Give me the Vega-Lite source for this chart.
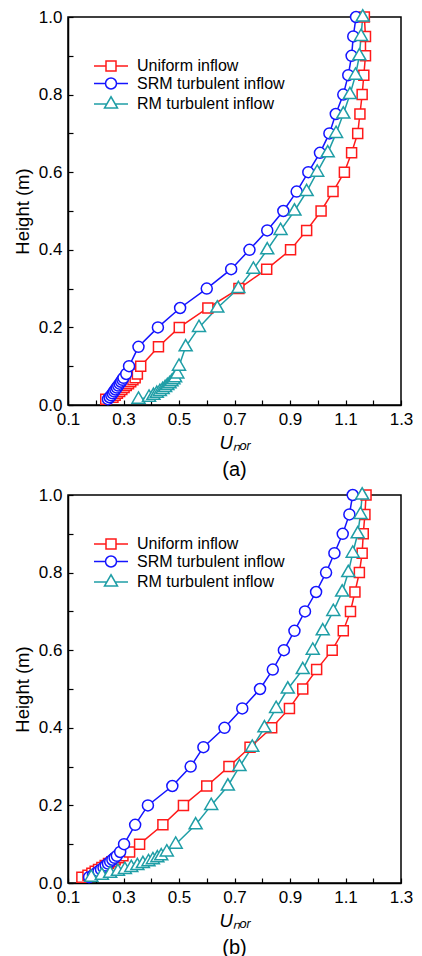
{
  "$schema": "https://vega.github.io/schema/vega-lite/v6.json",
  "background": "white",
  "padding": {"left": 12, "top": 6, "right": 5, "bottom": 5},
  "spacing": 3,
  "datasets": {
    "a": [
      {"h": 0.015, "Uniform inflow": 0.236, "SRM turbulent inflow": 0.244, "RM turbulent inflow": 0.354},
      {"h": 0.02, "Uniform inflow": 0.262, "SRM turbulent inflow": 0.25, "RM turbulent inflow": 0.392},
      {"h": 0.025, "Uniform inflow": 0.27, "SRM turbulent inflow": 0.256, "RM turbulent inflow": 0.408},
      {"h": 0.03, "Uniform inflow": 0.278, "SRM turbulent inflow": 0.261, "RM turbulent inflow": 0.42},
      {"h": 0.035, "Uniform inflow": 0.286, "SRM turbulent inflow": 0.266, "RM turbulent inflow": 0.431},
      {"h": 0.04, "Uniform inflow": 0.294, "SRM turbulent inflow": 0.271, "RM turbulent inflow": 0.441},
      {"h": 0.045, "Uniform inflow": 0.302, "SRM turbulent inflow": 0.276, "RM turbulent inflow": 0.45},
      {"h": 0.05, "Uniform inflow": 0.31, "SRM turbulent inflow": 0.281, "RM turbulent inflow": 0.458},
      {"h": 0.055, "Uniform inflow": 0.318, "SRM turbulent inflow": 0.286, "RM turbulent inflow": 0.466},
      {"h": 0.06, "Uniform inflow": 0.326, "SRM turbulent inflow": 0.291, "RM turbulent inflow": 0.473},
      {"h": 0.065, "Uniform inflow": 0.334, "SRM turbulent inflow": 0.296, "RM turbulent inflow": 0.48},
      {"h": 0.07, "Uniform inflow": 0.342, "SRM turbulent inflow": 0.3, "RM turbulent inflow": 0.486},
      {"h": 0.08, "Uniform inflow": 0.35, "SRM turbulent inflow": 0.31, "RM turbulent inflow": 0.494},
      {"h": 0.1, "Uniform inflow": 0.362, "SRM turbulent inflow": 0.32, "RM turbulent inflow": 0.5},
      {"h": 0.15, "Uniform inflow": 0.426, "SRM turbulent inflow": 0.354, "RM turbulent inflow": 0.524},
      {"h": 0.2, "Uniform inflow": 0.501, "SRM turbulent inflow": 0.424, "RM turbulent inflow": 0.572},
      {"h": 0.25, "Uniform inflow": 0.604, "SRM turbulent inflow": 0.504, "RM turbulent inflow": 0.638},
      {"h": 0.3, "Uniform inflow": 0.716, "SRM turbulent inflow": 0.6, "RM turbulent inflow": 0.714},
      {"h": 0.35, "Uniform inflow": 0.816, "SRM turbulent inflow": 0.688, "RM turbulent inflow": 0.768},
      {"h": 0.4, "Uniform inflow": 0.902, "SRM turbulent inflow": 0.754, "RM turbulent inflow": 0.818},
      {"h": 0.45, "Uniform inflow": 0.96, "SRM turbulent inflow": 0.818, "RM turbulent inflow": 0.866},
      {"h": 0.5, "Uniform inflow": 1.012, "SRM turbulent inflow": 0.876, "RM turbulent inflow": 0.916},
      {"h": 0.55, "Uniform inflow": 1.055, "SRM turbulent inflow": 0.924, "RM turbulent inflow": 0.96},
      {"h": 0.6, "Uniform inflow": 1.096, "SRM turbulent inflow": 0.966, "RM turbulent inflow": 0.998},
      {"h": 0.65, "Uniform inflow": 1.122, "SRM turbulent inflow": 1.008, "RM turbulent inflow": 1.036},
      {"h": 0.7, "Uniform inflow": 1.144, "SRM turbulent inflow": 1.042, "RM turbulent inflow": 1.066},
      {"h": 0.75, "Uniform inflow": 1.152, "SRM turbulent inflow": 1.065, "RM turbulent inflow": 1.092},
      {"h": 0.8, "Uniform inflow": 1.16, "SRM turbulent inflow": 1.092, "RM turbulent inflow": 1.116},
      {"h": 0.85, "Uniform inflow": 1.166, "SRM turbulent inflow": 1.11, "RM turbulent inflow": 1.136},
      {"h": 0.9, "Uniform inflow": 1.172, "SRM turbulent inflow": 1.122, "RM turbulent inflow": 1.15},
      {"h": 0.95, "Uniform inflow": 1.172, "SRM turbulent inflow": 1.128, "RM turbulent inflow": 1.156},
      {"h": 1.0, "Uniform inflow": 1.168, "SRM turbulent inflow": 1.138, "RM turbulent inflow": 1.162}
    ],
    "b": [
      {"h": 0.015, "Uniform inflow": 0.15, "SRM turbulent inflow": 0.176, "RM turbulent inflow": 0.184},
      {"h": 0.02, "Uniform inflow": 0.172, "SRM turbulent inflow": 0.19, "RM turbulent inflow": 0.222},
      {"h": 0.025, "Uniform inflow": 0.186, "SRM turbulent inflow": 0.2, "RM turbulent inflow": 0.252},
      {"h": 0.03, "Uniform inflow": 0.198, "SRM turbulent inflow": 0.21, "RM turbulent inflow": 0.28},
      {"h": 0.035, "Uniform inflow": 0.21, "SRM turbulent inflow": 0.219, "RM turbulent inflow": 0.305},
      {"h": 0.04, "Uniform inflow": 0.222, "SRM turbulent inflow": 0.228, "RM turbulent inflow": 0.328},
      {"h": 0.045, "Uniform inflow": 0.234, "SRM turbulent inflow": 0.236, "RM turbulent inflow": 0.35},
      {"h": 0.05, "Uniform inflow": 0.246, "SRM turbulent inflow": 0.244, "RM turbulent inflow": 0.37},
      {"h": 0.055, "Uniform inflow": 0.258, "SRM turbulent inflow": 0.252, "RM turbulent inflow": 0.39},
      {"h": 0.06, "Uniform inflow": 0.27, "SRM turbulent inflow": 0.26, "RM turbulent inflow": 0.406},
      {"h": 0.065, "Uniform inflow": 0.284, "SRM turbulent inflow": 0.268, "RM turbulent inflow": 0.422},
      {"h": 0.07, "Uniform inflow": 0.298, "SRM turbulent inflow": 0.276, "RM turbulent inflow": 0.436},
      {"h": 0.08, "Uniform inflow": 0.322, "SRM turbulent inflow": 0.288, "RM turbulent inflow": 0.456},
      {"h": 0.1, "Uniform inflow": 0.358, "SRM turbulent inflow": 0.302, "RM turbulent inflow": 0.488},
      {"h": 0.15, "Uniform inflow": 0.442, "SRM turbulent inflow": 0.342, "RM turbulent inflow": 0.56},
      {"h": 0.2, "Uniform inflow": 0.516, "SRM turbulent inflow": 0.388, "RM turbulent inflow": 0.616},
      {"h": 0.25, "Uniform inflow": 0.6, "SRM turbulent inflow": 0.476, "RM turbulent inflow": 0.676},
      {"h": 0.3, "Uniform inflow": 0.68, "SRM turbulent inflow": 0.542, "RM turbulent inflow": 0.718},
      {"h": 0.35, "Uniform inflow": 0.756, "SRM turbulent inflow": 0.588, "RM turbulent inflow": 0.764},
      {"h": 0.4, "Uniform inflow": 0.834, "SRM turbulent inflow": 0.664, "RM turbulent inflow": 0.808},
      {"h": 0.45, "Uniform inflow": 0.898, "SRM turbulent inflow": 0.728, "RM turbulent inflow": 0.85},
      {"h": 0.5, "Uniform inflow": 0.946, "SRM turbulent inflow": 0.792, "RM turbulent inflow": 0.892},
      {"h": 0.55, "Uniform inflow": 0.996, "SRM turbulent inflow": 0.838, "RM turbulent inflow": 0.946},
      {"h": 0.6, "Uniform inflow": 1.052, "SRM turbulent inflow": 0.878, "RM turbulent inflow": 0.982},
      {"h": 0.65, "Uniform inflow": 1.092, "SRM turbulent inflow": 0.916, "RM turbulent inflow": 1.018},
      {"h": 0.7, "Uniform inflow": 1.118, "SRM turbulent inflow": 0.954, "RM turbulent inflow": 1.056},
      {"h": 0.75, "Uniform inflow": 1.134, "SRM turbulent inflow": 0.994, "RM turbulent inflow": 1.088},
      {"h": 0.8, "Uniform inflow": 1.15, "SRM turbulent inflow": 1.03, "RM turbulent inflow": 1.11},
      {"h": 0.85, "Uniform inflow": 1.16, "SRM turbulent inflow": 1.06, "RM turbulent inflow": 1.126},
      {"h": 0.9, "Uniform inflow": 1.164, "SRM turbulent inflow": 1.09, "RM turbulent inflow": 1.144},
      {"h": 0.95, "Uniform inflow": 1.17, "SRM turbulent inflow": 1.114, "RM turbulent inflow": 1.154},
      {"h": 1.0, "Uniform inflow": 1.174, "SRM turbulent inflow": 1.126, "RM turbulent inflow": 1.16}
    ]
  },
  "config": {
    "font": "Liberation Sans",
    "view": {"stroke": "black", "strokeWidth": 1.5},
    "axis": {
      "domainColor": "black", "domainWidth": 1.5,
      "tickColor": "black", "tickWidth": 1.2, "tickSize": -5,
      "labelFontSize": 17, "labelColor": "black", "labelFont": "Liberation Sans",
      "titleFontSize": 18.5, "titleFontWeight": "normal", "titleColor": "black", "titleFont": "Liberation Sans",
      "grid": false, "labelPadding": 11
    },
    "legend": {
      "orient": "none", "legendX": 35, "legendY": 41, "padding": 0,
      "symbolSize": 100, "labelFontSize": 16, "labelColor": "black", "labelOffset": 18,
      "rowPadding": 0.5, "symbolStrokeWidth": 1.5, "labelFont": "Liberation Sans"
    },
    "title": {"fontSize": 20, "fontWeight": "normal", "color": "black", "font": "Liberation Sans"}
  },
  "vconcat": [
    {
      "width": 333, "height": 388,
      "data": {"name": "a"},
      "title": {"text": "(a)", "orient": "bottom", "offset": 8},
      "transform": [{"fold": ["Uniform inflow", "SRM turbulent inflow", "RM turbulent inflow"], "as": ["series", "u"]}],
      "encoding": {
        "x": {"field": "u", "type": "quantitative",
          "scale": {"domain": [0.1, 1.3], "nice": false, "zero": false},
          "axis": {"values": [0.1, 0.2, 0.3, 0.4, 0.5, 0.6, 0.7, 0.8, 0.9, 1.0, 1.1, 1.2, 1.3],
            "labelExpr": "round(datum.value*10) % 2 == 1 ? format(datum.value, '.1f') : ''",
            "labelFlush": false, "labelOverlap": false,
            "title": "Uₙₒᵣ", "titleFontStyle": "italic", "titlePadding": 6}},
        "y": {"field": "h", "type": "quantitative",
          "scale": {"domain": [0, 1], "nice": false},
          "axis": {"values": [0, 0.1, 0.2, 0.3, 0.4, 0.5, 0.6, 0.7, 0.8, 0.9, 1.0],
            "labelExpr": "round(datum.value*10) % 2 == 0 ? format(datum.value, '.1f') : ''",
            "labelFlush": false, "labelOverlap": false,
            "title": "Height (m)", "titlePadding": 6}},
        "color": {"field": "series", "type": "nominal",
          "sort": ["Uniform inflow", "SRM turbulent inflow", "RM turbulent inflow"],
          "scale": {"domain": ["Uniform inflow", "SRM turbulent inflow", "RM turbulent inflow"], "range": ["#ff1a1a", "#1414ff", "#1f9ea6"]},
          "legend": {"title": null,
            "encode": {"symbols": {"update": {
              "shape": {"signal": "datum.value == 'Uniform inflow' ? 'M-3.4,0H-1M1,0H3.4M-1,-1H1V1H-1Z' : datum.value == 'SRM turbulent inflow' ? 'M-3.4,0H-1.1M1.1,0H3.4M-1.1,0A1.1,1.1,0,1,0,1.1,0A1.1,1.1,0,1,0,-1.1,0Z' : 'M-3.4,0H-0.9M0.9,0H3.4M0,-1.45L1.3,0.8H-1.3Z'"},
              "fill": {"value": "white"}, "strokeWidth": {"value": 1.5}, "opacity": {"value": 1}}}}}}
      },
      "layer": [
        {"mark": {"type": "line", "strokeWidth": 1.5}, "encoding": {"order": {"field": "h", "type": "quantitative"}}},
        {"transform": [{"filter": "datum.series == 'Uniform inflow'"}],
          "mark": {"type": "point", "shape": "M-1,-1H1V1H-1Z", "filled": false, "fill": "white", "fillOpacity": 1, "strokeWidth": 1.5, "opacity": 1, "size": 100}},
        {"transform": [{"filter": "datum.series == 'SRM turbulent inflow'"}],
          "mark": {"type": "point", "shape": "M-1.1,0A1.1,1.1,0,1,0,1.1,0A1.1,1.1,0,1,0,-1.1,0Z", "filled": false, "fill": "white", "fillOpacity": 1, "strokeWidth": 1.5, "opacity": 1, "size": 100}},
        {"transform": [{"filter": "datum.series == 'RM turbulent inflow'"}],
          "mark": {"type": "point", "shape": "M0,-1.45L1.3,0.8H-1.3Z", "filled": false, "fill": "white", "fillOpacity": 1, "strokeWidth": 1.5, "opacity": 1, "size": 100}}
      ]
    },
    {
      "width": 333, "height": 388,
      "data": {"name": "b"},
      "title": {"text": "(b)", "orient": "bottom", "offset": 8},
      "transform": [{"fold": ["Uniform inflow", "SRM turbulent inflow", "RM turbulent inflow"], "as": ["series", "u"]}],
      "encoding": {
        "x": {"field": "u", "type": "quantitative",
          "scale": {"domain": [0.1, 1.3], "nice": false, "zero": false},
          "axis": {"values": [0.1, 0.2, 0.3, 0.4, 0.5, 0.6, 0.7, 0.8, 0.9, 1.0, 1.1, 1.2, 1.3],
            "labelExpr": "round(datum.value*10) % 2 == 1 ? format(datum.value, '.1f') : ''",
            "labelFlush": false, "labelOverlap": false,
            "title": "Uₙₒᵣ", "titleFontStyle": "italic", "titlePadding": 6}},
        "y": {"field": "h", "type": "quantitative",
          "scale": {"domain": [0, 1], "nice": false},
          "axis": {"values": [0, 0.1, 0.2, 0.3, 0.4, 0.5, 0.6, 0.7, 0.8, 0.9, 1.0],
            "labelExpr": "round(datum.value*10) % 2 == 0 ? format(datum.value, '.1f') : ''",
            "labelFlush": false, "labelOverlap": false,
            "title": "Height (m)", "titlePadding": 6}},
        "color": {"field": "series", "type": "nominal",
          "sort": ["Uniform inflow", "SRM turbulent inflow", "RM turbulent inflow"],
          "scale": {"domain": ["Uniform inflow", "SRM turbulent inflow", "RM turbulent inflow"], "range": ["#ff1a1a", "#1414ff", "#1f9ea6"]},
          "legend": {"title": null,
            "encode": {"symbols": {"update": {
              "shape": {"signal": "datum.value == 'Uniform inflow' ? 'M-3.4,0H-1M1,0H3.4M-1,-1H1V1H-1Z' : datum.value == 'SRM turbulent inflow' ? 'M-3.4,0H-1.1M1.1,0H3.4M-1.1,0A1.1,1.1,0,1,0,1.1,0A1.1,1.1,0,1,0,-1.1,0Z' : 'M-3.4,0H-0.9M0.9,0H3.4M0,-1.45L1.3,0.8H-1.3Z'"},
              "fill": {"value": "white"}, "strokeWidth": {"value": 1.5}, "opacity": {"value": 1}}}}}}
      },
      "layer": [
        {"mark": {"type": "line", "strokeWidth": 1.5}, "encoding": {"order": {"field": "h", "type": "quantitative"}}},
        {"transform": [{"filter": "datum.series == 'Uniform inflow'"}],
          "mark": {"type": "point", "shape": "M-1,-1H1V1H-1Z", "filled": false, "fill": "white", "fillOpacity": 1, "strokeWidth": 1.5, "opacity": 1, "size": 100}},
        {"transform": [{"filter": "datum.series == 'SRM turbulent inflow'"}],
          "mark": {"type": "point", "shape": "M-1.1,0A1.1,1.1,0,1,0,1.1,0A1.1,1.1,0,1,0,-1.1,0Z", "filled": false, "fill": "white", "fillOpacity": 1, "strokeWidth": 1.5, "opacity": 1, "size": 100}},
        {"transform": [{"filter": "datum.series == 'RM turbulent inflow'"}],
          "mark": {"type": "point", "shape": "M0,-1.45L1.3,0.8H-1.3Z", "filled": false, "fill": "white", "fillOpacity": 1, "strokeWidth": 1.5, "opacity": 1, "size": 100}}
      ]
    }
  ],
  "resolve": {"scale": {"color": "independent"}, "legend": {"color": "independent"}}
}
